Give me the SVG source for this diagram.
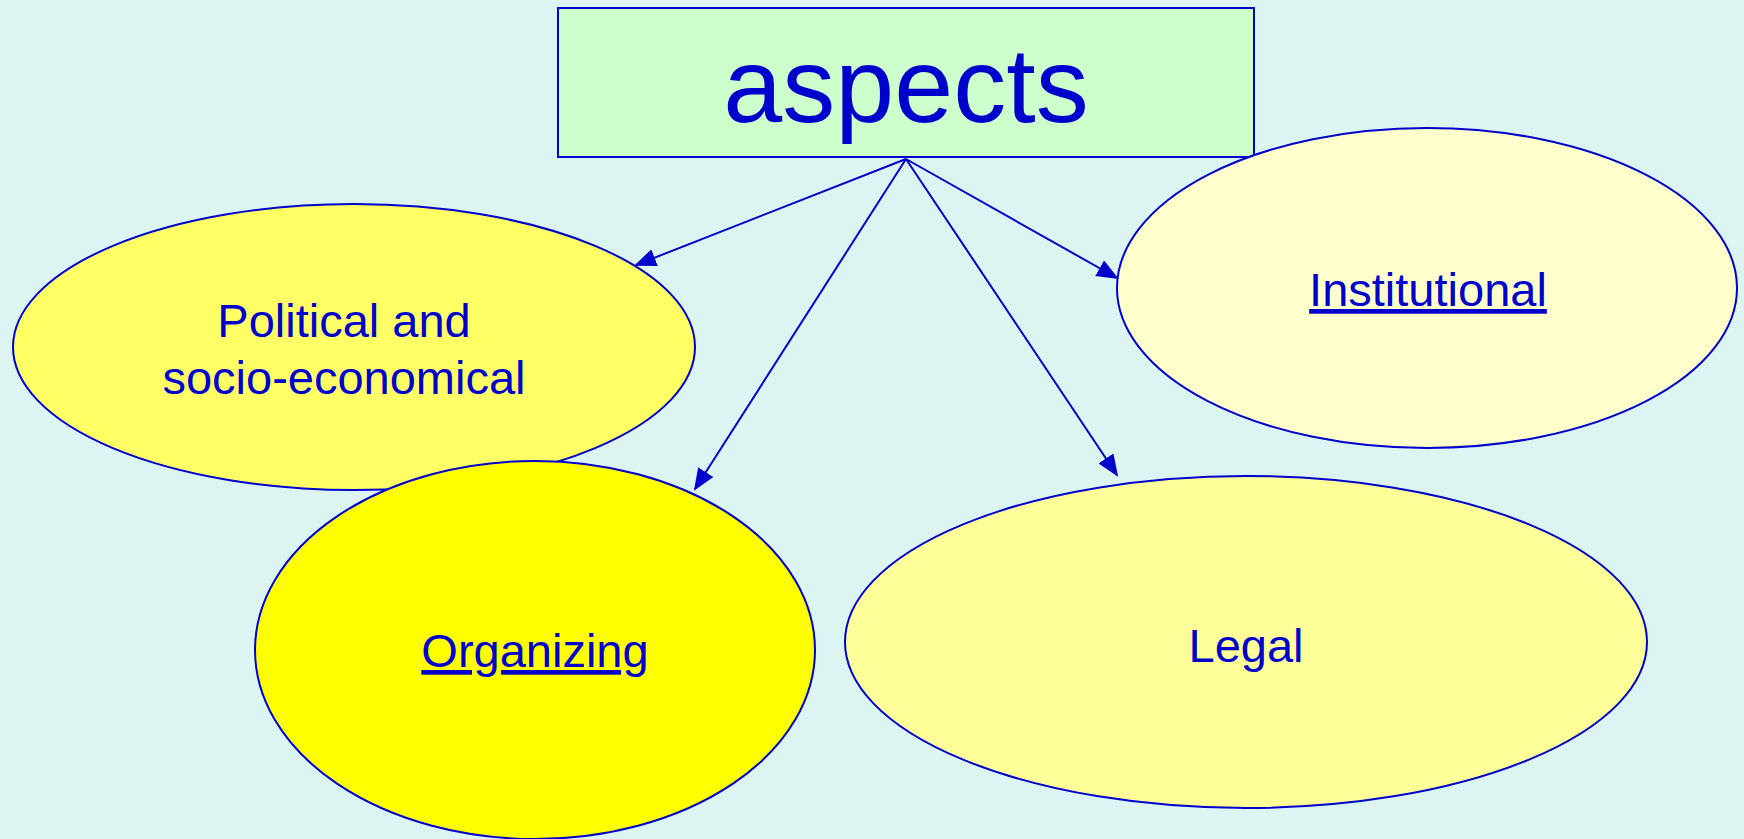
<svg xmlns="http://www.w3.org/2000/svg" width="1744" height="839" viewBox="0 0 1744 839">
<style>
.t{font-family:"Liberation Sans",Arial,sans-serif;fill:#0000CC;text-anchor:middle}
.e{stroke:#0000CC;stroke-width:2}
.c{stroke:#0000CC;stroke-width:2;fill:none;marker-end:url(#ah)}
</style>
<defs>
<marker id="ah" markerWidth="22" markerHeight="18" refX="20" refY="9" orient="auto" markerUnits="userSpaceOnUse">
<path d="M0,0 L22,9 L0,18 Z" fill="#0000CC"/>
</marker>
</defs>
<rect width="1744" height="839" fill="#DDF5F2"/>
<g id="aspects">
<rect x="558" y="8" width="696" height="149" fill="#CCFFCC" class="e"/>
<text x="906" y="122" class="t" font-size="106">aspects</text>
</g>
<g id="political">
<ellipse cx="354" cy="347" rx="341" ry="143" fill="#FFFF66" class="e"/>
<text x="344" y="337" class="t" font-size="47">Political and</text>
<text x="344" y="394" class="t" font-size="47">socio-economical</text>
</g>
<g id="organizing">
<ellipse cx="535" cy="650" rx="280" ry="189" fill="#FFFF00" class="e"/>
<text x="535" y="667" class="t" font-size="47" text-decoration="underline">Organizing</text>
</g>
<g id="institutional">
<ellipse cx="1427" cy="288" rx="310" ry="160" fill="#FFFFCC" class="e"/>
<text x="1428" y="306" class="t" font-size="47" text-decoration="underline">Institutional</text>
</g>
<g id="legal">
<ellipse cx="1246" cy="642" rx="401" ry="166" fill="#FFFF99" class="e"/>
<text x="1246" y="662" class="t" font-size="47">Legal</text>
</g>
<g id="connectors">
<line x1="906" y1="159" x2="636" y2="265" class="c"/>
<line x1="906" y1="159" x2="695" y2="489" class="c"/>
<line x1="906" y1="159" x2="1117" y2="278" class="c"/>
<line x1="906" y1="159" x2="1117" y2="475" class="c"/>
</g>
</svg>
